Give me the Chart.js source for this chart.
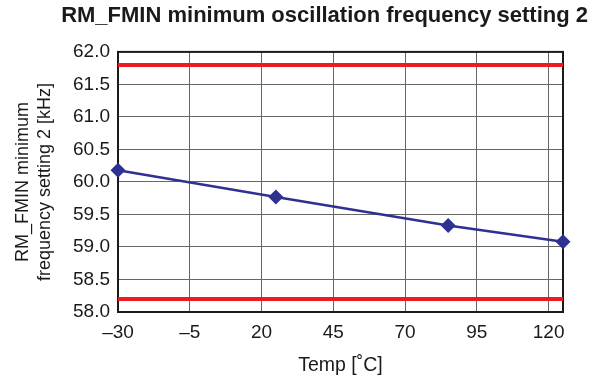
<!DOCTYPE html>
<html>
<head>
<meta charset="utf-8">
<script src="https://cdn.jsdelivr.net/npm/chart.js@4.4.1/dist/chart.umd.min.js"></script>
<style>
  html, body { margin: 0; padding: 0; background: #fff; }
  #wrap { width: 604px; height: 383px; }
</style>
</head>
<body>
<div id="wrap"><canvas id="c" width="604" height="383"></canvas></div>
<script>
const chartTitle = 'RM_FMIN minimum oscillation frequency setting 2';
const yTitle = ['RM_FMIN minimum', 'frequency setting 2 [kHz]'];
const xTitle = 'Temp [˚C]';
const temps = [-30, 25, 85, 125];
const freqs = [60.18, 59.77, 59.33, 59.08];
const limitX = [-30, 125];
const upperLimit = [61.8, 61.8];
const lowerLimit = [58.2, 58.2];
const xTicks = [-30, -5, 20, 45, 70, 95, 120];
const yMin = 58.0, yMax = 62.0, yStep = 0.5;
const xMin = -30, xMax = 125;

const FONT = 'Arial, "Liberation Sans", Helvetica, sans-serif';

const frame = {
  id: 'frame',
  beforeDatasetsDraw(chart) {
    const {ctx, chartArea: a} = chart;
    ctx.save();
    ctx.strokeStyle = '#1a1a1a';
    ctx.lineWidth = 2;
    ctx.strokeRect(a.left, a.top, a.right - a.left, a.bottom - a.top);
    ctx.restore();
  }
};

new Chart(document.getElementById('c'), {
  type: 'scatter',
  data: {
    datasets: [
      {
        data: limitX.map((x, i) => ({x, y: upperLimit[i]})),
        showLine: true, borderColor: '#ED1C24', borderWidth: 4,
        pointRadius: 0, clip: false, order: 2
      },
      {
        data: limitX.map((x, i) => ({x, y: lowerLimit[i]})),
        showLine: true, borderColor: '#ED1C24', borderWidth: 4,
        pointRadius: 0, clip: false, order: 2
      },
      {
        data: temps.map((x, i) => ({x, y: freqs[i]})),
        showLine: true, borderColor: '#2E3192', borderWidth: 2.5,
        pointStyle: 'rectRot', pointRadius: 7.5,
        pointBackgroundColor: '#2E3192', pointBorderColor: '#2E3192',
        pointBorderWidth: 0, clip: false, order: 1
      }
    ]
  },
  options: {
    responsive: false,
    animation: false,
    events: [],
    layout: { padding: { left: 0, right: 16, top: 0, bottom: 0 } },
    plugins: {
      legend: { display: false },
      tooltip: { enabled: false },
      title: {
        display: true, text: chartTitle, align: 'end', color: '#1a1a1a',
        font: { family: FONT, size: 22, weight: 'bold', lineHeight: 1.2 },
        padding: { top: 2.5, bottom: 23 }
      }
    },
    scales: {
      x: {
        type: 'linear', min: xMin, max: xMax,
        afterBuildTicks: s => { s.ticks = xTicks.map(v => ({value: v})); },
        afterFit: s => { s.height = 71; },
        grid: { color: '#666', lineWidth: 1, drawTicks: false },
        border: { display: false },
        ticks: {
          padding: 9, color: '#1a1a1a', maxRotation: 0, autoSkip: false,
          font: { family: FONT, size: 19, lineHeight: 1.2 },
          callback: v => String(v).replace('-', '\u2013')
        },
        title: {
          display: true, text: xTitle, color: '#1a1a1a',
          font: { family: FONT, size: 19.5, lineHeight: 1.2 },
          padding: { top: 12, bottom: 6 }
        }
      },
      y: {
        type: 'linear', min: yMin, max: yMax,
        afterBuildTicks: s => {
          const t = [];
          for (let v = yMin; v <= yMax + 1e-9; v += yStep) t.push({value: +v.toFixed(1)});
          s.ticks = t;
        },
        afterFit: s => { s.width = 118; },
        grid: { color: '#666', lineWidth: 1, drawTicks: false },
        border: { display: false },
        ticks: {
          padding: 8, color: '#1a1a1a',
          font: { family: FONT, size: 19, lineHeight: 1.2 },
          callback: v => Number(v).toFixed(1)
        },
        title: {
          display: true, text: yTitle, color: '#1a1a1a',
          font: { family: FONT, size: 18, lineHeight: 1.22 },
          padding: { top: 12, bottom: 0 }
        }
      },
      y2: {
        type: 'linear', position: 'right', display: true,
        afterFit: s => { s.width = 25; },
        grid: { display: false, drawTicks: false },
        border: { display: false },
        ticks: { display: false }
      }
    }
  },
  plugins: [frame]
});
</script>
</body>
</html>
